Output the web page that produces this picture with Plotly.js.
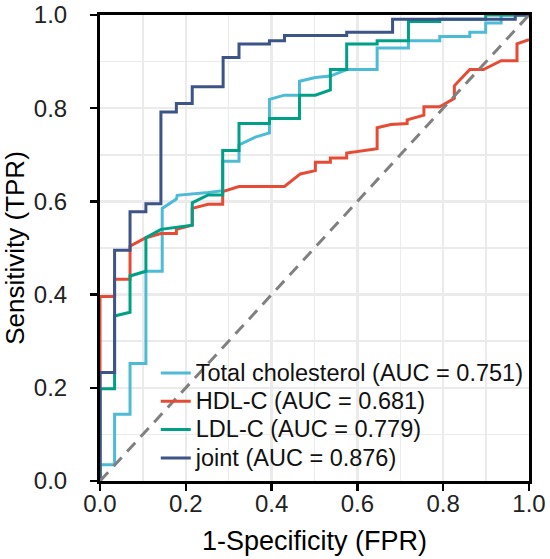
<!DOCTYPE html>
<html>
<head>
<meta charset="utf-8">
<script src="https://cdn.plot.ly/plotly-3.0.1.min.js"></script>
<style>html,body{margin:0;padding:0;background:#fff;}#chart{width:550px;height:559px;}</style>
</head>
<body>
<div id="chart"></div>
<script>
// ROC coordinates
const seriesNames = ["Total cholesterol (AUC = 0.751)", "HDL-C (AUC = 0.681)", "LDL-C (AUC = 0.779)", "joint (AUC = 0.876)"];

const tcFPR = [0, 0, 0.034, 0.034, 0.07, 0.07, 0.107, 0.107, 0.145, 0.145, 0.178, 0.18, 0.252, 0.286, 0.286, 0.324, 0.324, 0.362, 0.395, 0.395, 0.43, 0.465, 0.465, 0.502, 0.537, 0.575, 0.646, 0.646, 0.719, 0.719, 0.792, 0.792, 0.862, 0.862, 0.899, 0.899, 0.935, 0.935, 1];
const tcTPR = [0, 0.035, 0.035, 0.143, 0.143, 0.252, 0.252, 0.45, 0.45, 0.585, 0.605, 0.613, 0.619, 0.623, 0.686, 0.686, 0.721, 0.738, 0.747, 0.819, 0.828, 0.828, 0.858, 0.866, 0.869, 0.883, 0.883, 0.929, 0.929, 0.945, 0.945, 0.954, 0.954, 0.963, 0.963, 0.983, 0.983, 1, 1];

const hdlFPR = [0, 0, 0.034, 0.034, 0.07, 0.07, 0.107, 0.142, 0.178, 0.178, 0.215, 0.215, 0.252, 0.286, 0.286, 0.324, 0.43, 0.467, 0.502, 0.502, 0.537, 0.537, 0.575, 0.575, 0.646, 0.646, 0.678, 0.716, 0.716, 0.755, 0.755, 0.792, 0.826, 0.826, 0.862, 0.894, 0.935, 0.972, 0.972, 1];
const hdlTPR = [0, 0.396, 0.396, 0.433, 0.433, 0.504, 0.522, 0.531, 0.531, 0.54, 0.549, 0.585, 0.594, 0.594, 0.621, 0.632, 0.632, 0.659, 0.666, 0.684, 0.684, 0.693, 0.693, 0.704, 0.713, 0.758, 0.765, 0.767, 0.775, 0.785, 0.803, 0.803, 0.821, 0.848, 0.883, 0.883, 0.902, 0.902, 0.938, 0.947];

const ldlFPR = [0, 0, 0.034, 0.034, 0.07, 0.07, 0.107, 0.107, 0.142, 0.178, 0.215, 0.215, 0.252, 0.286, 0.286, 0.324, 0.324, 0.395, 0.395, 0.465, 0.465, 0.502, 0.537, 0.537, 0.575, 0.575, 0.646, 0.646, 0.719, 0.719, 0.792, 0.792, 0.899, 0.899, 1];
const ldlTPR = [0, 0.198, 0.198, 0.354, 0.362, 0.44, 0.45, 0.522, 0.54, 0.545, 0.549, 0.597, 0.614, 0.614, 0.709, 0.709, 0.767, 0.767, 0.778, 0.778, 0.828, 0.828, 0.839, 0.883, 0.883, 0.938, 0.938, 0.945, 0.945, 0.986, 0.986, 0.991, 0.991, 1, 1];

const jointFPR = [0, 0, 0.034, 0.034, 0.07, 0.07, 0.107, 0.107, 0.142, 0.142, 0.178, 0.178, 0.215, 0.215, 0.287, 0.287, 0.324, 0.324, 0.395, 0.395, 0.43, 0.43, 0.575, 0.575, 0.682, 0.682, 0.968, 0.968, 1];
const jointTPR = [0, 0.233, 0.233, 0.495, 0.495, 0.578, 0.578, 0.595, 0.595, 0.792, 0.792, 0.81, 0.81, 0.846, 0.846, 0.909, 0.909, 0.938, 0.938, 0.945, 0.945, 0.956, 0.956, 0.963, 0.963, 0.991, 0.991, 1, 1];

const refLine = [0, 1];
const tickVals = [0, 0.2, 0.4, 0.6, 0.8, 1.0];
const tickText = ["0.0", "0.2", "0.4", "0.6", "0.8", "1.0"];

const colors = ["#4DBBD5", "#E64B35", "#00A087", "#3C5488"];
const FONT = "Liberation Sans, Arial, Helvetica, sans-serif";

const xs = [tcFPR, hdlFPR, ldlFPR, jointFPR];
const ys = [tcTPR, hdlTPR, ldlTPR, jointTPR];
const traces = seriesNames.map((n, i) => ({
  x: xs[i], y: ys[i],
  name: '<span style="font-size:23.5px">' + n + '</span>',
  type: "scatter", mode: "lines",
  line: {color: colors[i], width: 3, shape: "linear"}
}));
traces.push({
  x: refLine, y: refLine, type: "scatter", mode: "lines", showlegend: false,
  line: {color: "#808080", width: 3, dash: "12px,8px"}, hoverinfo: "skip"
});

const axisCommon = {
  range: [0, 1], autorange: false, zeroline: false,
  showline: true, linecolor: "#000", linewidth: 3, mirror: true,
  ticks: "outside", ticklen: 7, tickwidth: 2.5, tickcolor: "#000",
  tickvals: tickVals, ticktext: tickText,
  tickfont: {family: FONT, size: 24, color: "#222"},
  showgrid: true, gridcolor: "#EBEBEB", gridwidth: 2.5,
  minor: {dtick: 0.1, tick0: 0, showgrid: true, gridcolor: "#EBEBEB", gridwidth: 1.5, ticks: ""}
};

const layout = {
  width: 550, height: 559,
  margin: {l: 100, r: 21, t: 15, b: 78},
  paper_bgcolor: "#fff", plot_bgcolor: "#fff",
  showlegend: true,
  legend: {
    x: 0.13, y: 0.007, xanchor: "left", yanchor: "bottom",
    bgcolor: "rgba(0,0,0,0)", borderwidth: 0,
    font: {family: FONT, size: 19.5, color: "#111"},
    tracegroupgap: 0, traceorder: "normal"
  },
  xaxis: Object.assign({}, axisCommon, {
    ticklabelstandoff: -8,
    title: {text: "1-Specificity (FPR)", font: {family: FONT, size: 27, color: "#000"}, standoff: 16}
  }),
  yaxis: Object.assign({}, axisCommon, {
    ticklabelstandoff: 18,
    title: {text: "Sensitivity (TPR)", font: {family: FONT, size: 26, color: "#000"}, standoff: 2}
  }),
  font: {family: FONT}
};

Plotly.newPlot("chart", traces, layout, {displayModeBar: false, staticPlot: true});
</script>
</body>
</html>
